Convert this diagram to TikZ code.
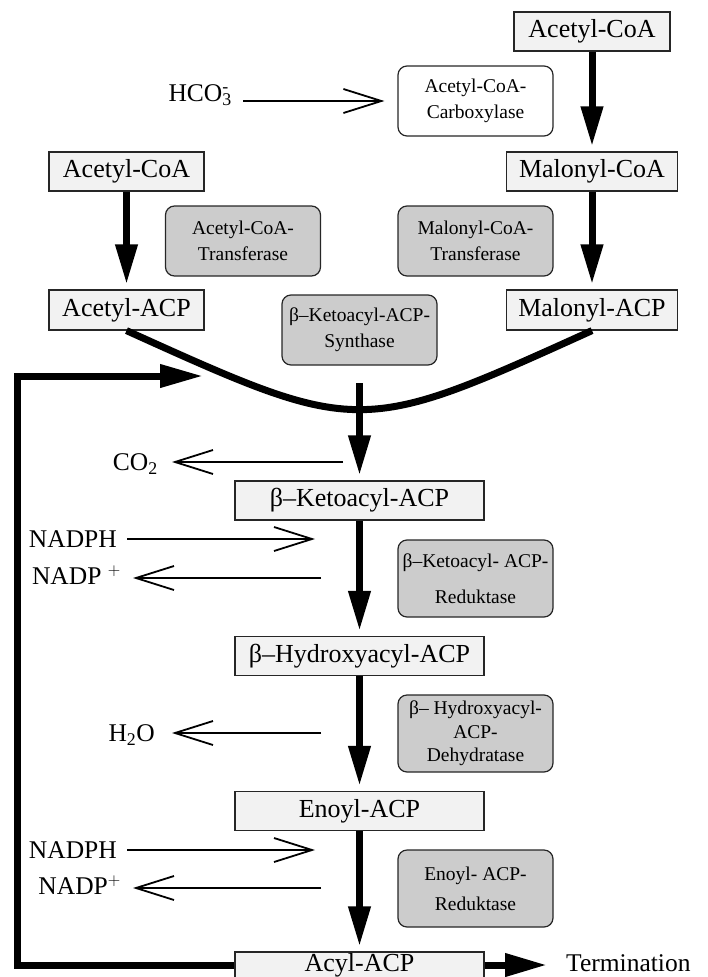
\documentclass[tikz,border=0pt]{standalone}
\usepackage{fontspec}
\setmainfont{Liberation Serif}
\usetikzlibrary{arrows.meta, calc}
\definecolor{substratefill}{HTML}{F2F2F2}
\definecolor{enzymefill}{HTML}{CCCCCC}
\tikzset{
    substrate/.style={draw=black!85, fill=substratefill, line width=1.2pt, inner sep=0pt,
        minimum height=39pt, font=\fontsize{26}{30}\selectfont},
    enzyme/.style={draw=black!85, fill=enzymefill, line width=1.2pt, rounded corners=9pt,
        inner sep=0pt, minimum width=155pt, minimum height=70pt, align=center,
        font=\fontsize{19.5}{26}\selectfont},
    reagent/.style={inner sep=0pt, text height=17pt, text depth=0pt,
        font=\fontsize{25.5}{30}\selectfont},
    flow/.style={line width=7pt, -{Triangle[length=40pt,width=21pt]}, shorten >=5pt},
    side/.style={line width=1.8pt, -{Straight Barb[length=38pt,width=24pt,line width=1.8pt]}}
}

\begin{document}
\begin{tikzpicture}[x=1pt, y=-1pt]
    \useasboundingbox (0,0) rectangle (707,977);
    \clip (0,0) rectangle (707,977);
    % substrates
    \node[substrate, minimum width=156pt] (acoatop) at (592,31.5) {Acetyl-CoA};
    \node[substrate, minimum width=171pt] (malcoa) at (592,171.5) {Malonyl-CoA};
    \node[substrate, minimum width=155pt] (acoa) at (126.5,171.5) {Acetyl-CoA};
    \node[substrate, minimum width=155pt, minimum height=40pt] (aacp) at (126.5,310) {Acetyl-ACP};
    \node[substrate, minimum width=171pt, minimum height=40pt] (macp) at (592,310) {Malonyl-ACP};
    \node[substrate, minimum width=249pt] (ketoacp) at (359.5,500.5) {β–Ketoacyl-ACP};
    \node[substrate, minimum width=249pt] (hydroxyacp) at (359.5,656) {β–Hydroxyacyl-ACP};
    \node[substrate, minimum width=249pt] (enoylacp) at (359.5,811) {Enoyl-ACP};
    \node[substrate, minimum width=249pt, minimum height=26pt, inner ysep=0pt] (acylacp) at (359.5,965) {Acyl-ACP};
    % enzymes
    \node[enzyme, fill=white] (carboxylase) at (475.5,101) {Acetyl-CoA-\\Carboxylase};
    \node[enzyme] (acettrans) at (243,241) {Acetyl-CoA-\\Transferase};
    \node[enzyme] (maltrans) at (475.5,241) {Malonyl-CoA-\\Transferase};
    \node[enzyme] (synthase) at (359.5,330) {β–Ketoacyl-ACP-\\Synthase};
    \node[enzyme, minimum height=77pt] (ketored) at (475.5,578.5) {β–Ketoacyl- ACP-\\[10pt]Reduktase};
    \node[enzyme, minimum height=77pt, font=\fontsize{19.5}{23.5}\selectfont] (dehydratase) at (475.5,733.5) {β– Hydroxyacyl-\\ACP-\\Dehydratase};
    \node[enzyme, minimum height=77pt] (enoylred) at (475.5,888.5) {Enoyl- ACP-\\[4pt]Reduktase};
    % small molecules
    \node[reagent, anchor=east] (hco3) at (232,93) {HCO\rlap{\textsuperscript{-}}\textsubscript{3}};
    \node[reagent, anchor=east] (co2) at (158,462) {CO\textsubscript{2}};
    \node[reagent, anchor=east] (nadph1) at (117,539) {NADPH};
    \node[reagent, anchor=east] (nadp1) at (121,576) {NADP $^+$};
    \node[reagent, anchor=east] (h2o) at (155,733) {H\textsubscript{2}O};
    \node[reagent, anchor=east] (nadph2) at (117,850) {NADPH};
    \node[reagent, anchor=east] (nadp2) at (121,886) {NADP$^+$};
    \node[reagent, anchor=west] (term) at (566,963) {Termination};
    \coordinate (arcbottom) at (359.5,383);
    \coordinate (loopcorner) at (17,376);
    \coordinate (loopend) at (203,376);
    \coordinate (co2out) at (343,462);
    \coordinate (redin1) at (315,539);
    \coordinate (redout1) at (321,578);
    \coordinate (dehout) at (321,733);
    \coordinate (redin2) at (315,850);
    \coordinate (redout2) at (321,888);
    % main flow
    \draw[flow] (acoatop.south) -- (malcoa.north);
    \draw[flow] (malcoa.south) -- (macp.north);
    \draw[flow] (acoa.south) -- (aacp.north);
    \draw[line width=7pt] (aacp.south) .. controls (359.5,436) .. (macp.south);
    \draw[flow] (arcbottom) -- (ketoacp.north);
    \draw[flow] (ketoacp.south) -- (hydroxyacp.north);
    \draw[flow] (hydroxyacp.south) -- (enoylacp.north);
    \draw[flow] (enoylacp.south) -- (acylacp.north);
    \draw[line width=7pt, line join=miter, -{Triangle[length=43pt,width=22pt]}]
        (acylacp.west) -| (loopcorner) -- (loopend);
    \draw[line width=7pt, -{Triangle[length=42pt,width=22pt]}, shorten >=19pt]
        (acylacp.east) -- (term.west |- acylacp.east);
    % side reactions
    \draw[side, shorten <=11pt, shorten >=13pt] (hco3.east |- carboxylase.west) -- (carboxylase.west);
    \draw[side, shorten >=14pt] (co2out) -- (co2.east);
    \draw[side, shorten <=10pt] (nadph1.east) -- (redin1);
    \draw[side, shorten >=12pt] (redout1) -- (nadp1.east |- redout1);
    \draw[side, shorten >=17pt] (dehout) -- (h2o.east);
    \draw[side, shorten <=10pt] (nadph2.east) -- (redin2);
    \draw[side, shorten >=12pt] (redout2) -- (nadp2.east |- redout2);
\end{tikzpicture}
\end{document}
